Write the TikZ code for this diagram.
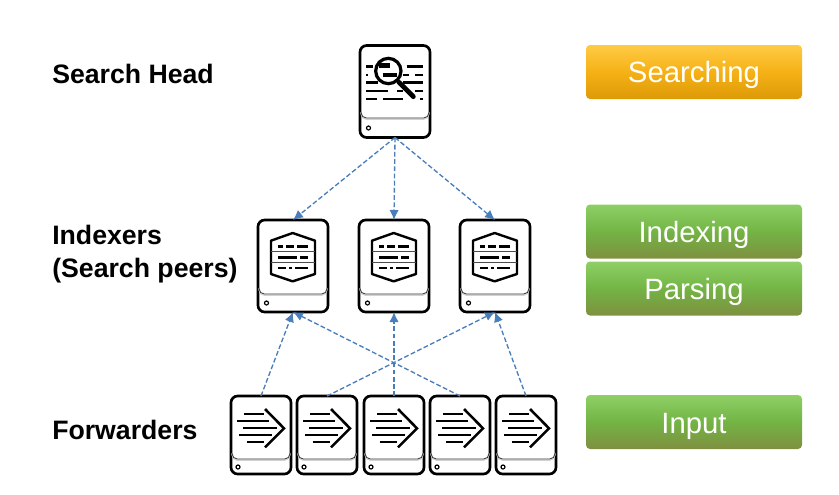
\documentclass[tikz,border=0pt]{standalone}
\usepackage{fontspec}
\setmainfont{Liberation Sans}
\usetikzlibrary{arrows.meta}
\definecolor{flow}{HTML}{4A7EBB}
\tikzset{
  x=0.75pt,y=-0.75pt,
  serverbox/.style={draw=black,line width=2pt,rounded corners=5pt,fill=white,outer sep=0pt,inner sep=0pt},
  bigbox/.style={serverbox,minimum width=52.5pt,minimum height=69pt},
  smallbox/.style={serverbox,minimum width=45pt,minimum height=58.5pt},
  flowline/.style={draw=flow,line width=1pt,dash pattern=on 3.6pt off 1.8pt,-{Latex[length=7.5pt,width=7pt]}},
  tierlabel/.style={font=\fontsize{20}{25}\selectfont\bfseries,align=left,anchor=west,inner sep=0pt,text=black},
  stagebox/.style={rounded corners=3pt,minimum width=162pt,minimum height=40.5pt,inner sep=0pt},
  stagetext/.style={inner sep=0pt,text=white,font=\fontsize{22}{26}\selectfont},
  orangebox/.style={stagebox,top color=stageOT,bottom color=stageOB,middle color=stageOM},
  greenbox/.style={stagebox,top color=stageGT,bottom color=stageGB,middle color=stageGM},
  bar/.style={line width=1.9pt,line cap=butt,draw=black},
  zoomunits/.style={x=0.25pt,y=-0.25pt},
}
\definecolor{stageOT}{HTML}{FFCB45}
\definecolor{stageOM}{HTML}{F5B115}
\definecolor{stageOB}{HTML}{DD9A08}
\definecolor{stageGT}{HTML}{8FD066}
\definecolor{stageGM}{HTML}{73B445}
\definecolor{stageGB}{HTML}{7F9040}
% #1 left px, #2 panel line y px, #3 width px, #4 LED x offset, #5 LED y px
\newcommand{\panelline}[5]{%
  \draw[gray!35,line width=0.9pt,rounded corners=4pt] (#1+2,#2-6) -- (#1+2,#2+1.2) -- (#1+#3-2,#2+1.2) -- (#1+#3-2,#2-6);
  \draw[black!80,line width=0.6pt,rounded corners=4pt] (#1+2,#2-6) -- (#1+2,#2) -- (#1+#3-2,#2) -- (#1+#3-2,#2-6);
  \draw[black,line width=0.9pt] (#1+#4,#5) circle[radius=2];
}
\newcommand{\indexicon}[2]{%
  \begin{scope}[shift={(#1,#2)},zoomunits]
    \draw[black,line width=1.8pt,line join=round] (107,42) -- (174,65) -- (174,165) -- (107,187) -- (42,165) -- (42,65) -- cycle;
    \draw[black!70,line width=0.8pt] (42,98) -- (174,98) (42,130) -- (174,130);
    \draw[bar] (64,83) -- (79,83) (87,83) -- (112,83) (120,83) -- (152,83);
    \draw[bar] (64,115) -- (119,115) (129,115) -- (152,115);
    \draw[bar] (64,147) -- (86,147) (97,147) -- (104,147) (114,147) -- (152,147);
  \end{scope}
}
\newcommand{\forwardicon}[2]{%
  \begin{scope}[shift={(#1,#2)},zoomunits]
    \draw[black,line width=1.9pt] (105,42) -- (162,100) -- (105,157);
    \draw[bar,line width=1.6pt] (42,57) -- (103,57) (22,77) -- (118,77) (40,98) -- (142,98) (28,119) -- (125,119) (50,140) -- (103,140);
  \end{scope}
}
\begin{document}
\begin{tikzpicture}
\useasboundingbox (0,0) rectangle (839,494);

% search head
\node[bigbox] (sh) at (395,91.5) {};
\panelline{359}{118}{72}{9.5}{128}
\begin{scope}[shift={(359,45)},zoomunits]
  \draw[bar] (21,65) -- (41,65) (143,65) -- (193,65);
  \draw[bar] (21,90) -- (28,90) (133,90) -- (151,90) (168,90) -- (191,90);
  \draw[bar] (21,113) -- (58,113) (133,113) -- (191,113);
  \draw[bar] (21,138) -- (88,138) (113,138) -- (133,138) (168,138) -- (191,138);
  \draw[bar] (21,162) -- (53,162) (71,162) -- (133,162) (183,162) -- (191,162);
  \draw[black,line width=2.4pt,fill=white] (88,78) circle[radius=38];
  \draw[black,line width=3.6pt,line cap=round] (120,112) -- (163,155);
  \draw[black,line width=3.4pt] (61,62) -- (93,62) (73,90) -- (113,90);
\end{scope}

% indexers
\node[bigbox] (i1) at (293,266) {};
\node[bigbox] (i2) at (394,266) {};
\node[bigbox] (i3) at (495,266) {};
\panelline{257}{294}{72}{9.5}{303}
\panelline{358}{294}{72}{9.5}{303}
\panelline{459}{294}{72}{9.5}{303}
\indexicon{257}{219}
\indexicon{358}{219}
\indexicon{459}{219}

% forwarders
\node[smallbox] (f1) at (261,435) {};
\node[smallbox] (f2) at (327,435) {};
\node[smallbox] (f3) at (394,435) {};
\node[smallbox] (f4) at (460,435) {};
\node[smallbox] (f5) at (526,435) {};
\panelline{230}{459}{62}{8}{467}
\panelline{296}{459}{62}{8}{467}
\panelline{363}{459}{62}{8}{467}
\panelline{429}{459}{62}{8}{467}
\panelline{495}{459}{62}{8}{467}
\forwardicon{230}{395}
\forwardicon{296}{395}
\forwardicon{363}{395}
\forwardicon{429}{395}
\forwardicon{495}{395}

% connectors
\draw[flowline] (sh.south) -- (i1.north);
\draw[flowline] (sh.south) -- (i2.north);
\draw[flowline] (sh.south) -- (i3.north);
\draw[flowline] (f1.north) -- (i1.south);
\draw[flowline] (f2.north) -- (i3.south);
\draw[flowline] (f3.north) -- (i2.south);
\draw[flowline] (f4.north) -- (i1.south);
\draw[flowline] (f5.north) -- (i3.south);

% tier labels
\node[tierlabel] (l1) at (52,74) {Search Head};
\node[tierlabel] (l2) at (52,254) {Indexers\\(Search peers)};
\node[tierlabel] (l3) at (52,430) {Forwarders};

% stage boxes
\node[orangebox] (s1) at (694,72) {};
\node[stagetext] at (694,75) {Searching};
\node[greenbox] (s2) at (694,231.5) {};
\node[stagetext] at (694,235) {Indexing};
\node[greenbox] (s3) at (694,288.5) {};
\node[stagetext] at (694,292) {Parsing};
\node[greenbox] (s4) at (694,422) {};
\node[stagetext] at (694,426) {Input};
\end{tikzpicture}
\end{document}
